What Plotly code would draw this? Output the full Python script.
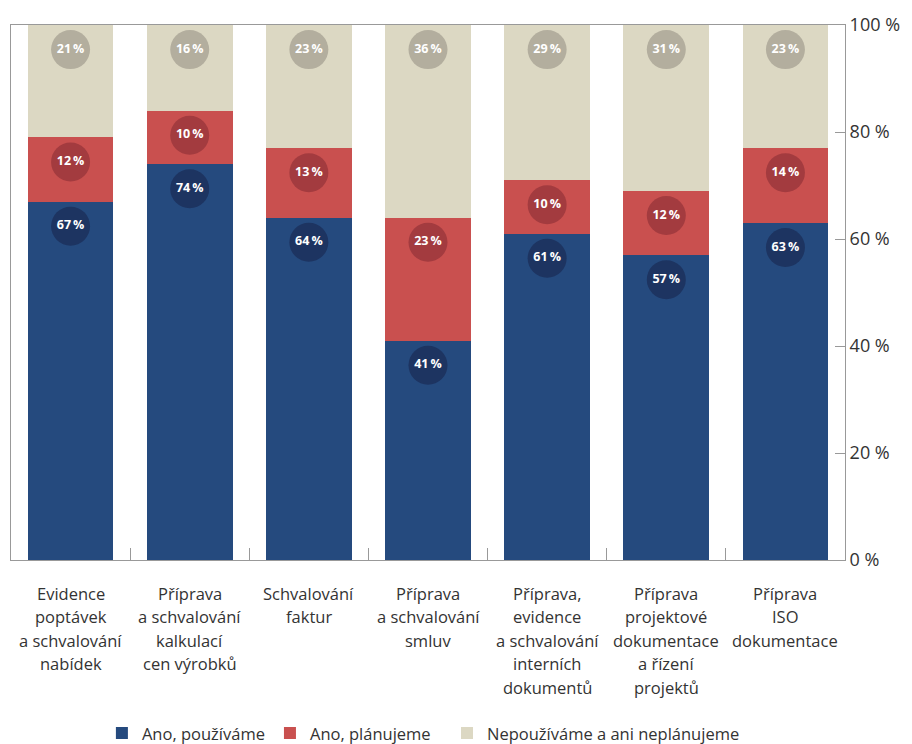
import plotly.graph_objects as go

categories = [
    "Evidence<br>poptávek<br>a schvalování<br>nabídek",
    "Příprava<br>a schvalování<br>kalkulací<br>cen výrobků",
    "Schvalování<br>faktur",
    "Příprava<br>a schvalování<br>smluv",
    "Příprava,<br>evidence<br>a schvalování<br>interních<br>dokumentů",
    "Příprava<br>projektové<br>dokumentace<br>a řízení<br>projektů",
    "Příprava<br>ISO<br>dokumentace",
]
ano_pouzivame = [67, 74, 64, 41, 61, 57, 63]
ano_planujeme = [12, 10, 13, 23, 10, 12, 14]
nepouzivame = [21, 16, 23, 36, 29, 31, 23]
series_names = ["Ano, používáme", "Ano, plánujeme", "Nepoužíváme a ani neplánujeme"]
y_ticks = [0, 20, 40, 60, 80, 100]

bar_colors = ["#254A7E", "#C9504F", "#DCD8C3"]
circle_colors = ["#1D3461", "#A33B3F", "#B3AE9E"]
circle_offset = 4.6
legend_ids = ["legend", "legend2", "legend3"]
legend_x = [0.109, 0.3105, 0.5228]

fig = go.Figure()
series = [ano_pouzivame, ano_planujeme, nepouzivame]
for name, vals, col, lid in zip(series_names, series, bar_colors, legend_ids):
    fig.add_trace(go.Bar(x=categories, y=vals, name=name, legend=lid,
                         marker=dict(color=col, line=dict(width=0)),
                         width=0.72, hoverinfo="skip"))

cum = [0] * len(categories)
for vals, ccol in zip(series, circle_colors):
    tops = [c + v for c, v in zip(cum, vals)]
    fig.add_trace(go.Scatter(
        x=categories, y=[t - circle_offset for t in tops], mode="markers+text",
        marker=dict(size=39, color=ccol, line=dict(width=0)),
        text=[f"{v}\u2009%" for v in vals], textposition="middle center",
        textfont=dict(family="Open Sans", size=12.5, color="white", weight="bold"),
        showlegend=False, hoverinfo="skip"))
    cum = tops

# category labels, one annotation per line
for cat in categories:
    for i, line in enumerate(cat.split("<br>")):
        fig.add_annotation(x=cat, xref="x", y=0, yref="paper", text=line,
                           showarrow=False, xanchor="center", yanchor="middle",
                           yshift=-(33 + i * 23.5),
                           font=dict(family="Open Sans", size=16.5, color="#333333"))

legend_style = dict(orientation="h", xanchor="left", y=-0.324, yanchor="middle",
                    font=dict(size=16.5, color="#333333"), itemwidth=30,
                    bgcolor="rgba(0,0,0,0)")
fig.update_layout(
    barmode="stack",
    width=912, height=744,
    margin=dict(l=11, r=67, t=25, b=184, autoexpand=False),
    paper_bgcolor="white", plot_bgcolor="white",
    font=dict(family="Open Sans", color="#333333"),
    legend=dict(x=legend_x[0], **legend_style),
    legend2=dict(x=legend_x[1], **legend_style),
    legend3=dict(x=legend_x[2], **legend_style),
)
fig.update_xaxes(
    type="category", automargin=False,
    range=[-0.5, len(categories) - 0.5], tickson="boundaries", ticks="inside", ticklen=12,
    tickcolor="#999999", showline=True, linecolor="#999999", mirror=True,
    showgrid=False, showticklabels=False,
)
fig.update_yaxes(
    side="right", range=[0, 100], tickmode="array", tickvals=y_ticks, automargin=False,
    ticktext=[f"{t} %" for t in y_ticks], ticks="inside", ticklen=10,
    tickcolor="#999999", showline=True, linecolor="#999999", mirror=True,
    showgrid=False, zeroline=False, tickfont=dict(size=18, color="#333333"),
)
fig.write_html("out.html")
